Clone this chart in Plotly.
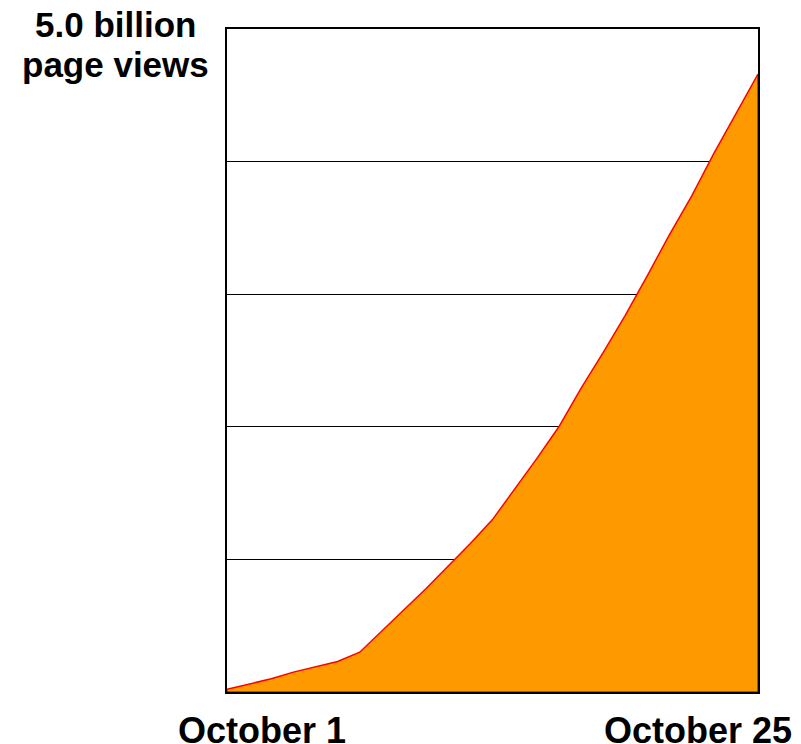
import plotly.graph_objects as go

days = list(range(25))  # Oct 1 .. Oct 25 (day index)
views_billion = [0.02, 0.06, 0.10, 0.15, 0.19, 0.23, 0.30, 0.46, 0.62, 0.78,
                 0.95, 1.12, 1.30, 1.53, 1.76, 2.00, 2.29, 2.56, 2.84, 3.14,
                 3.45, 3.74, 4.06, 4.36, 4.66]
y_label_lines = ["5.0 billion", "page views"]
x_labels = ["October 1", "October 25"]

# closed polygon: curve plus baseline
px = days + [days[-1], days[0], days[0]]
py = views_billion + [0, 0, views_billion[0]]

fig = go.Figure()
fig.add_trace(go.Scatter(
    x=px, y=py, mode="lines", fill="toself",
    fillcolor="#FF9900", line=dict(color="#FF0000", width=1.5),
    hoverinfo="skip", showlegend=False,
))

font = "Liberation Sans, Arial, sans-serif"
ann = []
for txt, yy in zip(y_label_lines, [1.039, 0.9795]):
    ann.append(dict(text="<b>" + txt + "</b>", xref="paper", yref="paper",
                    x=-0.21, y=yy, xanchor="center", yanchor="top", showarrow=False,
                    font=dict(family=font, size=35, color="black")))
ann.append(dict(text="<b>" + x_labels[0] + "</b>", xref="paper", yref="paper",
                x=0.065, y=-0.0241, xanchor="center", yanchor="top", showarrow=False,
                font=dict(family=font, size=36, color="black")))
ann.append(dict(text="<b>" + x_labels[1] + "</b>", xref="paper", yref="paper",
                x=1.068, y=-0.0241, xanchor="right", yanchor="top", showarrow=False,
                font=dict(family=font, size=36, color="black")))

fig.update_layout(
    width=801, height=744,
    margin=dict(l=227, r=43, t=29, b=52),
    paper_bgcolor="white", plot_bgcolor="white",
    showlegend=False,
    xaxis=dict(range=[0, 24], showgrid=False, zeroline=False, showticklabels=False,
               ticks="", showline=True, mirror=True, linecolor="black", linewidth=2,
               layer="below traces"),
    yaxis=dict(range=[0, 5], dtick=1, showgrid=True, gridcolor="black", gridwidth=1,
               zeroline=False, showticklabels=False, ticks="",
               showline=True, mirror=True, linecolor="black", linewidth=2,
               layer="below traces"),
    annotations=ann,
)

fig.write_html("out.html")
